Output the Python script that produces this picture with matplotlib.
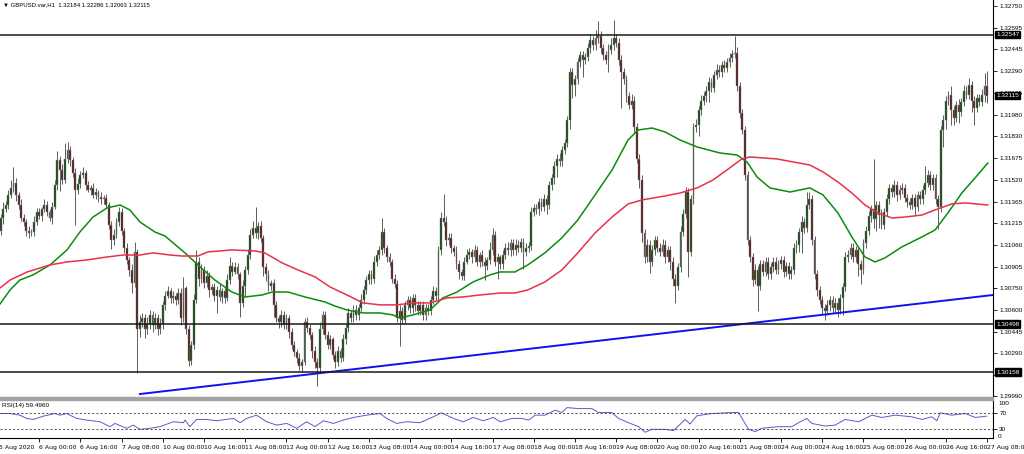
import numpy as np
import matplotlib
matplotlib.use('Agg')
import matplotlib.pyplot as plt
import matplotlib.transforms as mtrans
from matplotlib.patches import Rectangle

plt.rcParams['font.family'] = ['Liberation Sans', 'DejaVu Sans']

# GBPUSD H1, 5 Aug 08:00 -> 27 Aug 08:00, closes in pips above 1.30000 (16 bars per row)
close_pips = [
    116, 125, 131, 134, 141, 146, 150, 141, 134, 125, 122, 116, 114, 115, 122, 129,
    126, 131, 134, 129, 125, 133, 148, 166, 159, 152, 167, 173, 166, 157, 145, 149,
    155, 157, 148, 145, 146, 141, 143, 140, 138, 139, 134, 120, 109, 113, 122, 129,
    116, 104, 95, 88, 79, 101, 46, 51, 54, 46, 50, 56, 49, 54, 46, 50,
    63, 70, 73, 68, 70, 67, 72, 54, 75, 46, 24, 35, 67, 94, 82, 88,
    79, 84, 74, 76, 70, 74, 69, 73, 68, 81, 91, 87, 90, 85, 65, 77,
    88, 99, 113, 118, 114, 119, 111, 90, 85, 77, 79, 63, 54, 51, 56, 49,
    54, 44, 35, 30, 26, 20, 23, 51, 47, 42, 31, 23, 19, 46, 56, 42,
    35, 39, 28, 23, 31, 26, 39, 47, 58, 54, 60, 56, 61, 67, 74, 81,
    85, 82, 94, 99, 102, 115, 104, 97, 94, 82, 78, 54, 59, 53, 63, 67,
    61, 68, 63, 59, 63, 56, 61, 59, 67, 73, 70, 102, 125, 122, 109, 111,
    104, 101, 92, 87, 84, 94, 99, 101, 97, 102, 94, 99, 94, 91, 95, 102,
    113, 94, 97, 92, 99, 104, 102, 107, 102, 106, 104, 108, 101, 104, 105, 129,
    132, 131, 136, 133, 138, 134, 148, 153, 162, 167, 165, 173, 178, 194, 228, 219,
    223, 235, 240, 237, 239, 245, 251, 247, 252, 254, 245, 240, 237, 244, 247, 252,
    249, 237, 228, 223, 211, 205, 208, 189, 167, 152, 114, 97, 106, 94, 102, 109,
    104, 101, 106, 97, 102, 94, 82, 77, 90, 115, 128, 143, 101, 138, 189, 191,
    201, 208, 211, 215, 221, 217, 226, 230, 228, 233, 231, 235, 238, 241, 242, 218,
    199, 187, 155, 109, 97, 81, 88, 77, 92, 87, 94, 85, 90, 94, 88, 92,
    95, 87, 91, 85, 88, 104, 106, 115, 122, 118, 134, 138, 109, 85, 74, 67,
    61, 59, 63, 67, 61, 65, 60, 68, 76, 97, 99, 104, 97, 102, 92, 88,
    107, 116, 126, 131, 124, 134, 127, 120, 129, 138, 146, 143, 148, 141, 145, 146,
    139, 136, 134, 139, 133, 141, 138, 145, 150, 155, 148, 153, 138, 133, 187, 194,
    208, 212, 201, 196, 205, 200, 207, 215, 212, 219, 208, 203, 210, 207, 212, 218.4,
    211.5,
]
first_open = 121

# upper / lower shadows in pips
up_wick = [
    4, 3, 5, 3, 4, 6, 11, 3, 2, 4, 3, 2, 3, 2, 4, 3,
    3, 2, 4, 3, 2, 3, 4, 6, 3, 4, 11, 6, 3, 2, 3, 4,
    3, 4, 2, 3, 2, 4, 3, 2, 3, 2, 3, 2, 3, 4, 3, 4,
    3, 2, 3, 2, 4, 7, 2, 5, 4, 3, 5, 4, 3, 4, 3, 4,
    3, 3, 4, 2, 3, 2, 3, 3, 8, 2, 3, 3, 4, 8, 3, 4,
    3, 4, 3, 2, 3, 3, 4, 2, 3, 4, 6, 3, 4, 3, 2, 4,
    3, 4, 4, 5, 15, 3, 4, 2, 3, 3, 2, 3, 3, 2, 4, 3,
    3, 2, 3, 3, 2, 3, 2, 3, 4, 3, 2, 3, 3, 5, 3, 3,
    3, 3, 2, 3, 3, 2, 4, 3, 3, 2, 3, 3, 3, 4, 3, 3,
    3, 3, 4, 3, 3, 10, 3, 2, 3, 2, 3, 3, 4, 3, 3, 3,
    3, 3, 3, 3, 3, 3, 3, 3, 3, 4, 3, 3, 4, 17, 4, 3,
    3, 2, 4, 3, 2, 3, 4, 3, 2, 4, 3, 2, 3, 3, 2, 6,
    5, 3, 3, 2, 3, 3, 4, 3, 3, 4, 3, 3, 3, 3, 3, 4,
    3, 3, 3, 3, 4, 3, 3, 3, 3, 3, 4, 3, 3, 3, 3, 3,
    3, 3, 3, 3, 3, 4, 4, 3, 6, 10, 3, 3, 3, 4, 5, 13,
    3, 3, 3, 3, 3, 3, 5, 3, 3, 3, 3, 3, 4, 3, 4, 3,
    3, 3, 4, 3, 3, 3, 3, 3, 3, 4, 3, 4, 3, 3, 3, 4,
    3, 4, 3, 3, 4, 3, 3, 4, 3, 3, 4, 3, 4, 3, 12, 4,
    3, 3, 3, 3, 3, 3, 4, 3, 3, 3, 3, 3, 3, 3, 3, 3,
    3, 3, 3, 3, 3, 3, 3, 3, 4, 3, 9, 5, 3, 3, 3, 3,
    3, 3, 4, 3, 3, 3, 3, 3, 3, 4, 3, 3, 3, 3, 3, 3,
    3, 3, 4, 3, 36, 3, 3, 4, 3, 4, 3, 3, 4, 3, 3, 4,
    3, 3, 3, 3, 3, 3, 3, 3, 12, 4, 3, 3, 3, 3, 3, 4,
    3, 3, 6, 3, 3, 4, 3, 4, 3, 5, 3, 3, 3, 3, 4, 9,
    10.2,
]
dn_wick = [
    20, 3, 4, 2, 3, 2, 3, 4, 3, 2, 3, 4, 3, 2, 3, 2,
    2, 3, 2, 3, 2, 4, 2, 3, 15, 3, 2, 3, 4, 3, 25, 3,
    3, 2, 3, 2, 4, 2, 3, 4, 3, 3, 2, 3, 6, 3, 2, 3,
    3, 4, 3, 4, 7, 3, 31, 5, 3, 6, 3, 4, 5, 3, 4, 3,
    4, 3, 2, 3, 3, 4, 3, 5, 3, 3, 4, 3, 3, 2, 5, 3,
    4, 3, 5, 3, 4, 12, 3, 4, 3, 2, 3, 3, 2, 3, 10, 3,
    8, 3, 3, 2, 3, 4, 3, 6, 5, 4, 3, 8, 3, 4, 3, 3,
    3, 4, 3, 3, 4, 3, 4, 2, 3, 3, 5, 4, 13, 3, 3, 3,
    3, 3, 3, 4, 3, 3, 2, 3, 3, 3, 3, 3, 3, 2, 3, 3,
    3, 4, 3, 3, 3, 3, 4, 3, 3, 3, 3, 3, 20, 3, 3, 3,
    3, 3, 4, 3, 3, 3, 3, 3, 3, 3, 3, 3, 3, 3, 4, 3,
    4, 3, 3, 5, 3, 3, 2, 3, 4, 3, 3, 4, 3, 10, 3, 3,
    3, 3, 12, 3, 3, 3, 3, 4, 3, 3, 3, 3, 12, 3, 3, 3,
    3, 3, 4, 3, 3, 6, 3, 3, 4, 8, 3, 3, 3, 3, 6, 9,
    8, 3, 3, 12, 3, 3, 3, 3, 3, 3, 3, 3, 3, 9, 3, 3,
    3, 4, 25, 3, 4, 3, 3, 4, 3, 6, 6, 4, 3, 8, 3, 3,
    3, 3, 3, 4, 3, 6, 5, 12, 3, 3, 3, 3, 18, 3, 3, 3,
    8, 3, 3, 4, 8, 3, 3, 3, 3, 3, 3, 3, 3, 3, 3, 3,
    3, 3, 3, 3, 3, 4, 3, 18, 3, 3, 3, 3, 3, 3, 3, 3,
    3, 4, 3, 3, 3, 3, 4, 5, 15, 4, 3, 3, 3, 3, 4, 3,
    4, 6, 3, 4, 3, 3, 5, 3, 12, 3, 3, 3, 3, 3, 8, 10,
    3, 3, 3, 4, 6, 8, 9, 3, 3, 3, 3, 3, 3, 4, 3, 3,
    3, 3, 3, 3, 6, 3, 3, 3, 3, 3, 3, 3, 3, 16, 4, 12,
    6, 3, 10, 5, 3, 8, 3, 3, 3, 3, 8, 12, 3, 3, 3, 5,
    5.2,
]

# moving averages (bar index, pips above 1.30000)
green_bar = [0.8, 4.7, 8.5, 13.6, 20.2, 26.8, 31.8, 36.9, 42.3, 47.4, 51.2, 55.1, 60.9, 64.8, 72.6,
             77.6, 84.2, 90.8, 95.9, 102.5, 106.4, 112.6, 119.2, 126.9, 130.8, 135.5, 141.7, 148.3,
             153.3, 156.1, 161.1, 167.7, 172.7, 178.2, 184.4, 191.0, 194.9, 200.7, 205.7, 212.3,
             218.9, 225.1, 231.8, 238.4, 244.6, 248.5, 253.9, 259.0, 264.8, 271.4, 280.3, 286.9,
             290.8, 294.7, 299.7, 307.5, 315.2, 320.3, 326.1, 331.5, 336.6, 340.5, 344.3, 350.9,
             358.7, 363.8, 368.8, 374.2, 379.3, 384.3]
green_pips = [64.1, 74.0, 81.0, 84.6, 91.7, 102.3, 115.0, 125.6, 132.0, 134.1, 130.6, 122.1, 115.0,
              112.2, 100.2, 91.7, 81.0, 72.5, 69.0, 70.4, 72.5, 72.5, 69.0, 65.5, 62.6, 59.8, 57.7,
              57.7, 56.3, 54.1, 56.3, 59.8, 68.3, 72.5, 79.6, 84.6, 86.7, 86.7, 91.7, 100.2, 110.8,
              123.5, 141.2, 158.9, 180.1, 187.2, 188.6, 185.8, 180.1, 175.2, 170.9, 169.5, 164.6,
              153.9, 146.2, 143.3, 146.2, 141.2, 128.5, 111.5, 97.3, 93.8, 96.6, 104.4, 111.5,
              116.4, 128.5, 142.6, 153.2, 163.8]
red_bar = [0.8, 4.7, 11.3, 20.2, 26.8, 34.5, 42.3, 48.5, 55.1, 60.2, 66.8, 71.4, 77.6, 81.5, 90.8,
           99.8, 103.6, 110.3, 116.5, 123.1, 128.9, 135.5, 141.7, 148.3, 154.9, 161.1, 167.7, 174.3,
           180.5, 187.1, 194.9, 200.7, 205.7, 212.3, 218.9, 225.1, 231.8, 238.4, 244.6, 250.0,
           259.0, 264.8, 271.4, 277.6, 283.0, 288.8, 291.9, 302.4, 308.6, 315.2, 320.3, 326.1,
           331.5, 336.6, 341.6, 347.1, 352.2, 358.7, 363.8, 370.4, 375.5, 384.3]
red_pips = [75.4, 81.0, 86.7, 91.7, 93.8, 95.2, 97.3, 98.7, 98.7, 100.2, 98.7, 98.0, 98.0, 100.9,
            102.3, 101.6, 100.2, 93.1, 88.1, 83.2, 76.1, 70.4, 64.8, 63.4, 63.4, 64.8, 64.8, 68.3,
            69.0, 70.4, 71.8, 71.8, 74.0, 79.6, 88.1, 100.2, 114.3, 125.6, 134.8, 137.7, 140.5,
            142.6, 146.2, 151.8, 158.9, 166.7, 168.1, 166.7, 164.6, 162.4, 157.5, 150.4, 142.6,
            134.1, 128.5, 124.9, 125.6, 127.0, 130.6, 134.9, 135.6, 134.1]

# RSI(14)
rsi_bar = [0.8, 4.7, 8.5, 11.1, 13.7, 17.6, 22.1, 24.1, 26.7, 30.5, 34.4, 39.6, 43.5, 45.4, 50.0,
           52.5, 55.1, 59.0, 62.9, 68.1, 72.0, 72.6, 74.5, 77.1, 81.0, 84.9, 91.4, 94.0, 96.5,
           100.4, 104.3, 108.2, 112.1, 116.0, 119.8, 123.1, 126.3, 130.2, 134.1, 138.0, 143.1,
           148.3, 150.9, 154.8, 158.6, 163.8, 169.0, 172.2, 176.8, 180.6, 184.5, 188.4, 192.3,
           194.9, 199.5, 203.4, 206.0, 208.6, 212.4, 216.3, 218.9, 220.9, 225.4, 230.6, 233.1,
           238.3, 240.9, 244.8, 248.7, 251.3, 253.8, 259.0, 262.3, 266.8, 268.7, 271.3, 277.1,
           284.9, 287.5, 291.4, 294.0, 296.5, 303.0, 308.2, 310.8, 314.0, 316.0, 321.1, 325.0,
           328.9, 334.1, 339.3, 343.1, 348.3, 354.8, 358.7, 362.5, 364.5, 365.8, 370.3, 375.5,
           379.4, 383.9]
rsi_val = [67.6, 67.6, 63.7, 55.9, 53.5, 61.4, 67.6, 63.7, 67.6, 55.9, 52.0, 48.0, 36.3, 44.0, 32.4,
           40.0, 30.0, 32.4, 36.3, 48.0, 45.7, 52.0, 36.3, 53.5, 53.5, 50.4, 55.9, 45.7, 55.9, 63.7,
           48.0, 40.0, 44.0, 32.4, 48.0, 36.3, 50.4, 44.0, 52.0, 58.2, 63.7, 67.6, 55.9, 44.0, 48.0,
           45.7, 59.8, 69.2, 55.9, 48.0, 58.2, 50.4, 58.2, 48.0, 55.9, 55.9, 52.0, 63.7, 63.7, 75.5,
           70.0, 81.7, 79.4, 79.4, 70.0, 70.0, 55.9, 45.7, 36.3, 23.0, 30.0, 30.0, 26.9, 53.5, 42.5,
           62.1, 67.6, 70.0, 70.0, 30.0, 24.5, 32.4, 36.3, 36.3, 45.7, 55.9, 44.0, 37.8, 40.0, 53.5,
           48.0, 63.7, 58.2, 63.7, 59.8, 53.5, 59.8, 50.4, 69.2, 63.7, 67.6, 58.2, 61.4]

levels = [1.32547, 1.30498, 1.30158]
last_price = 1.32115
trend_bar = [55.1, 386.3]
trend_price = [1.30003, 1.30704]

price_ticks = [1.32750, 1.32595, 1.32445, 1.32290, 1.32135, 1.31980, 1.31830, 1.31675, 1.31520,
               1.31365, 1.31215, 1.31060, 1.30905, 1.30750, 1.30600, 1.30445, 1.30290, 1.30140,
               1.29990]
date_labels = ['5 Aug 2020', '6 Aug 00:00', '6 Aug 16:00', '7 Aug 08:00', '10 Aug 00:00',
               '10 Aug 16:00', '11 Aug 08:00', '12 Aug 00:00', '12 Aug 16:00', '13 Aug 08:00',
               '14 Aug 00:00', '14 Aug 16:00', '17 Aug 08:00', '18 Aug 00:00', '18 Aug 16:00',
               '19 Aug 08:00', '20 Aug 00:00', '20 Aug 16:00', '21 Aug 08:00', '24 Aug 00:00',
               '24 Aug 16:00', '25 Aug 08:00', '26 Aug 00:00', '26 Aug 16:00', '27 Aug 08:00']

close = 1.3 + np.array(close_pips) / 1e4
opens = np.r_[1.3 + first_open / 1e4, close[:-1]]
hi = np.maximum(opens, close) + np.array(up_wick) / 1e4
lo = np.minimum(opens, close) - np.array(dn_wick) / 1e4
bars = np.arange(len(close))
bull = close >= opens

W, H = 1024, 454
fig = plt.figure(figsize=(W / 100, H / 100), dpi=100)
fig.patch.set_facecolor('white')
ax = fig.add_axes([0, 1 - 397 / H, 993 / W, 397 / H])
rax = fig.add_axes([0, 1 - 438 / H, 993 / W, 38 / H])

xlim = (0.776, 386.3)
ax.set_xlim(*xlim)
ax.set_ylim(1.29982, 1.32792)

# candles
ax.vlines(bars, lo, hi, color='#5c5c5c', lw=0.7, zorder=2)
body_lo = np.minimum(opens, close)
body_h = np.maximum(np.abs(close - opens), 0.00002)
ax.bar(bars, body_h, bottom=body_lo, width=0.72,
       color=['#0b3f0b' if b else '#4d1010' for b in bull],
       edgecolor='#8c8c8c', lw=0.35, zorder=3)

ax.plot(green_bar, 1.3 + np.array(green_pips) / 1e4, color='#0c8c0c', lw=1.1, zorder=4)
ax.plot(red_bar, 1.3 + np.array(red_pips) / 1e4, color='#e8304f', lw=1.1, zorder=4)
ax.plot(trend_bar, trend_price, color='#1010f0', lw=1.4, zorder=5)
for lv in levels:
    ax.axhline(lv, color='#1a1a1a', lw=1.1, zorder=5)

ax.set_xticks([])
ax.yaxis.tick_right()
ax.set_yticks(price_ticks)
ax.set_yticklabels(['%.5f' % p for p in price_ticks])
ax.tick_params(axis='y', direction='out', length=3, width=0.6, labelsize=4.6, pad=1.5)
for s in ['top', 'left', 'bottom']:
    ax.spines[s].set_visible(False)
ax.spines['right'].set_linewidth(0.8)

tr = mtrans.blended_transform_factory(ax.transAxes, ax.transData)
for lv in levels + [last_price]:
    ax.text(1.0 + 3 / 993, lv, '%.5f' % lv, transform=tr, ha='left', va='center', fontsize=4.6,
            color='white', zorder=20, clip_on=False,
            bbox=dict(boxstyle='square,pad=0.2', fc='black', ec='black'))

fig.text(3 / W, 1 - 5 / H, '\u25bc GBPUSD.var,H1  1.32184 1.32286 1.32063 1.32115',
         fontsize=4.3, ha='left', va='center')

# separator between the two windows
fig.patches.append(Rectangle((0, 1 - 400 / H), 993 / W, 3 / H, transform=fig.transFigure,
                             color='#a3a3a3', zorder=10))

# RSI window
rax.set_xlim(*xlim)
rax.set_ylim(9.3, 99.8)
rax.plot(rsi_bar, rsi_val, color='#5b5bc8', lw=0.7)
for lv in [70, 30]:
    rax.axhline(lv, color='#333333', lw=0.6, ls=(0, (2.5, 2.5)))
rax.yaxis.tick_right()
rax.set_yticks([70, 30])
rax.set_yticklabels(['70', '30'])
rax.tick_params(axis='y', direction='out', length=3, width=0.6, labelsize=4.6, pad=1.5)
rax.text(1.0 + 5 / 993, 0.92, '100', transform=rax.transAxes, fontsize=4.6, va='center')
rax.text(1.0 + 5 / 993, 0.03, '0', transform=rax.transAxes, fontsize=4.6, va='center')
rax.text(2 / 993, 0.86, 'RSI(14) 59.4960', transform=rax.transAxes, fontsize=4.6, va='center')
for s in ['top', 'left']:
    rax.spines[s].set_visible(False)
rax.spines['right'].set_linewidth(0.8)
rax.spines['bottom'].set_linewidth(0.8)

date_font = ['Liberation Sans Narrow', 'DejaVu Sans']
tick_bars = [16 * k for k in range(1, len(date_labels))]
rax.set_xticks(tick_bars)
rax.set_xticklabels(date_labels[1:], ha='left', family=date_font)
rax.tick_params(axis='x', direction='out', length=3, width=0.6, labelsize=4.4, pad=2)
rax.text(0.5, -0.24, date_labels[0], transform=mtrans.blended_transform_factory(rax.transData, rax.transAxes),
         fontsize=4.4, family=date_font, ha='left', va='center', clip_on=False)

fig.savefig('out.png', dpi=100, facecolor='white')
